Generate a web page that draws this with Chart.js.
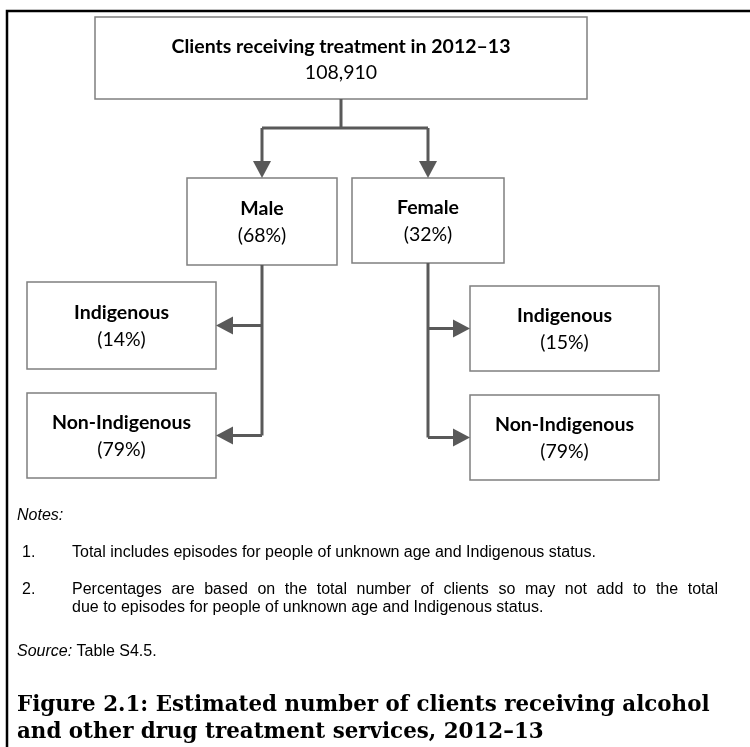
<!DOCTYPE html>
<html>
<head>
<meta charset="utf-8">
<script src="https://cdn.jsdelivr.net/npm/chart.js@4.4.1/dist/chart.umd.min.js"></script>
<style>
  html, body { margin: 0; padding: 0; background: #fff; }
  canvas { display: block; }
</style>
</head>
<body>
<canvas id="flow" width="750" height="747"></canvas>
<script>
// --- data ---
const totalLabel = 'Clients receiving treatment in 2012–13';
const totalClients = 108910;
const sexLabels = ['Male', 'Female'];
const sexShares = [68, 32];
const statusLabels = ['Indigenous', 'Non-Indigenous'];
const maleStatusShares = [14, 79];
const femaleStatusShares = [15, 79];
const notes = [
  ['Total includes episodes for people of unknown age and Indigenous status.'],
  ['Percentages are based on the total number of clients so may not add to the total',
   'due to episodes for people of unknown age and Indigenous status.']
];
const sourceText = 'Table S4.5.';
const captionLines = [
  'Figure 2.1: Estimated number of clients receiving alcohol',
  'and other drug treatment services, 2012–13'
];

// --- layout (axis units, x 0..750, y 0..747 top-down) ---
const topBox = [95, 17, 587, 99];
const sexBoxes = [[187, 178, 337, 265], [352, 178, 504, 263]];
const statusBoxes = [
  [[27, 282, 216, 369], [27, 393, 216, 478]],
  [[470, 286, 659, 371], [470, 395, 659, 480]]
];
const barY = 128;
const textLeft = 17, numLeft = 22, noteLeft = 72, noteRight = 718;
const notesY = 516, noteY = [[553], [590, 608]], sourceY = 652, captionY = [705, 732];
const captionWidth = 694;

const boxFont = 'Lato, "Open Sans", sans-serif';
const noteFont = '"Liberation Sans", Arial, sans-serif';
const capFont = '"DejaVu Serif", serif';
const lineCol = '#595959';
const boxCol = '#7f7f7f';

const pct = v => '(' + v + '%)';

// build node list from the arrays
const nodes = [{ box: topBox, title: totalLabel, value: totalClients.toLocaleString('en-US'), dy: [-11, 15] }];
sexLabels.forEach((s, i) => {
  nodes.push({ box: sexBoxes[i], title: s, value: pct(sexShares[i]), dy: [-13, 14] });
  const shares = i === 0 ? maleStatusShares : femaleStatusShares;
  statusLabels.forEach((st, j) => {
    nodes.push({ box: statusBoxes[i][j], title: st, value: pct(shares[j]), dy: [-13, 14] });
  });
});

function justify(c, text, x0, x1, y) {
  const words = text.split(' ');
  const total = words.reduce((a, w) => a + c.measureText(w).width, 0);
  const gap = (x1 - x0 - total) / (words.length - 1);
  let x = x0;
  words.forEach(w => { c.fillText(w, x, y); x += c.measureText(w).width + gap; });
}

const flowPlugin = {
  id: 'flow',
  afterDraw(chart) {
    const c = chart.ctx;
    const X = v => chart.scales.x.getPixelForValue(v);
    const Y = v => chart.scales.y.getPixelForValue(v);
    c.save();

    // outer frame (only left and top edges fall inside the picture)
    c.strokeStyle = '#000';
    c.lineWidth = 2.5;
    c.strokeRect(X(7), Y(11), X(760) - X(7), Y(760) - Y(11));

    // boxes and their text
    nodes.forEach(n => {
      const [x0, y0, x1, y1] = n.box;
      c.fillStyle = '#fff';
      c.fillRect(X(x0), Y(y0), X(x1) - X(x0), Y(y1) - Y(y0));
      c.strokeStyle = boxCol;
      c.lineWidth = 1.5;
      c.strokeRect(X(x0), Y(y0), X(x1) - X(x0), Y(y1) - Y(y0));
      const cx = X((x0 + x1) / 2), cy = (y0 + y1) / 2;
      c.fillStyle = '#000';
      c.textAlign = 'center';
      c.textBaseline = 'middle';
      c.font = 'bold 19.5px ' + boxFont;
      c.fillText(n.title, cx, Y(cy + n.dy[0]));
      c.font = '19.5px ' + boxFont;
      c.fillText(n.value, cx, Y(cy + n.dy[1]));
    });

    // connectors
    c.strokeStyle = lineCol;
    c.fillStyle = lineCol;
    c.lineWidth = 3;
    const line = pts => {
      c.beginPath();
      pts.forEach((p, k) => k ? c.lineTo(X(p[0]), Y(p[1])) : c.moveTo(X(p[0]), Y(p[1])));
      c.stroke();
    };
    const head = (tx, ty, dir) => {
      const L = 17, W = 9;
      c.beginPath();
      c.moveTo(X(tx), Y(ty));
      if (dir === 'down') { c.lineTo(X(tx - W), Y(ty - L)); c.lineTo(X(tx + W), Y(ty - L)); }
      if (dir === 'left') { c.lineTo(X(tx + L), Y(ty - W)); c.lineTo(X(tx + L), Y(ty + W)); }
      if (dir === 'right') { c.lineTo(X(tx - L), Y(ty - W)); c.lineTo(X(tx - L), Y(ty + W)); }
      c.closePath();
      c.fill();
    };
    const topCx = (topBox[0] + topBox[2]) / 2;
    const sexCx = sexBoxes.map(b => (b[0] + b[2]) / 2);
    line([[topCx, topBox[3]], [topCx, barY]]);
    line([[sexCx[0], barY], [sexCx[1], barY]]);
    sexBoxes.forEach((b, i) => {
      line([[sexCx[i], barY], [sexCx[i], b[1] - 14]]);
      head(sexCx[i], b[1], 'down');
      const ys = statusBoxes[i].map(s => (s[1] + s[3]) / 2);
      line([[sexCx[i], b[3]], [sexCx[i], ys[ys.length - 1]]]);
      statusBoxes[i].forEach((s, j) => {
        if (i === 0) { line([[sexCx[i], ys[j]], [s[2] + 14, ys[j]]]); head(s[2], ys[j], 'left'); }
        else { line([[sexCx[i], ys[j]], [s[0] - 14, ys[j]]]); head(s[0], ys[j], 'right'); }
      });
    });

    // notes, source and caption
    c.textAlign = 'left';
    c.textBaseline = 'middle';
    c.fillStyle = '#000';
    c.font = 'italic 16px ' + noteFont;
    c.fillText('Notes:', X(textLeft), Y(notesY));
    notes.forEach((lines, i) => {
      c.font = '16px ' + noteFont;
      c.fillText((i + 1) + '.', X(numLeft), Y(noteY[i][0]));
      lines.forEach((t, k) => {
        if (k < lines.length - 1) justify(c, t, X(noteLeft), X(noteRight), Y(noteY[i][k]));
        else c.fillText(t, X(noteLeft), Y(noteY[i][k]));
      });
    });
    c.font = 'italic 16px ' + noteFont;
    c.fillText('Source:', X(textLeft), Y(sourceY));
    const sw = c.measureText('Source: ').width;
    c.font = '16px ' + noteFont;
    c.fillText(sourceText, X(textLeft) + sw, Y(sourceY));

    // caption sized so its first line spans the text block
    c.font = 'bold 20px ' + capFont;
    const capSize = 20 * captionWidth / c.measureText(captionLines[0]).width;
    c.font = 'bold ' + capSize.toFixed(1) + 'px ' + capFont;
    captionLines.forEach((t, k) => c.fillText(t, X(textLeft), Y(captionY[k])));
    c.restore();
  }
};

new Chart(document.getElementById('flow'), {
  type: 'scatter',
  data: {
    datasets: [{
      data: nodes.map(n => ({ x: (n.box[0] + n.box[2]) / 2, y: (n.box[1] + n.box[3]) / 2 })),
      pointRadius: 0
    }]
  },
  options: {
    responsive: false,
    animation: false,
    events: [],
    layout: { padding: 0 },
    plugins: { legend: { display: false }, tooltip: { enabled: false } },
    scales: {
      x: { type: 'linear', min: 0, max: 750, display: false },
      y: { type: 'linear', min: 0, max: 747, reverse: true, display: false }
    }
  },
  plugins: [flowPlugin]
});
</script>
</body>
</html>
